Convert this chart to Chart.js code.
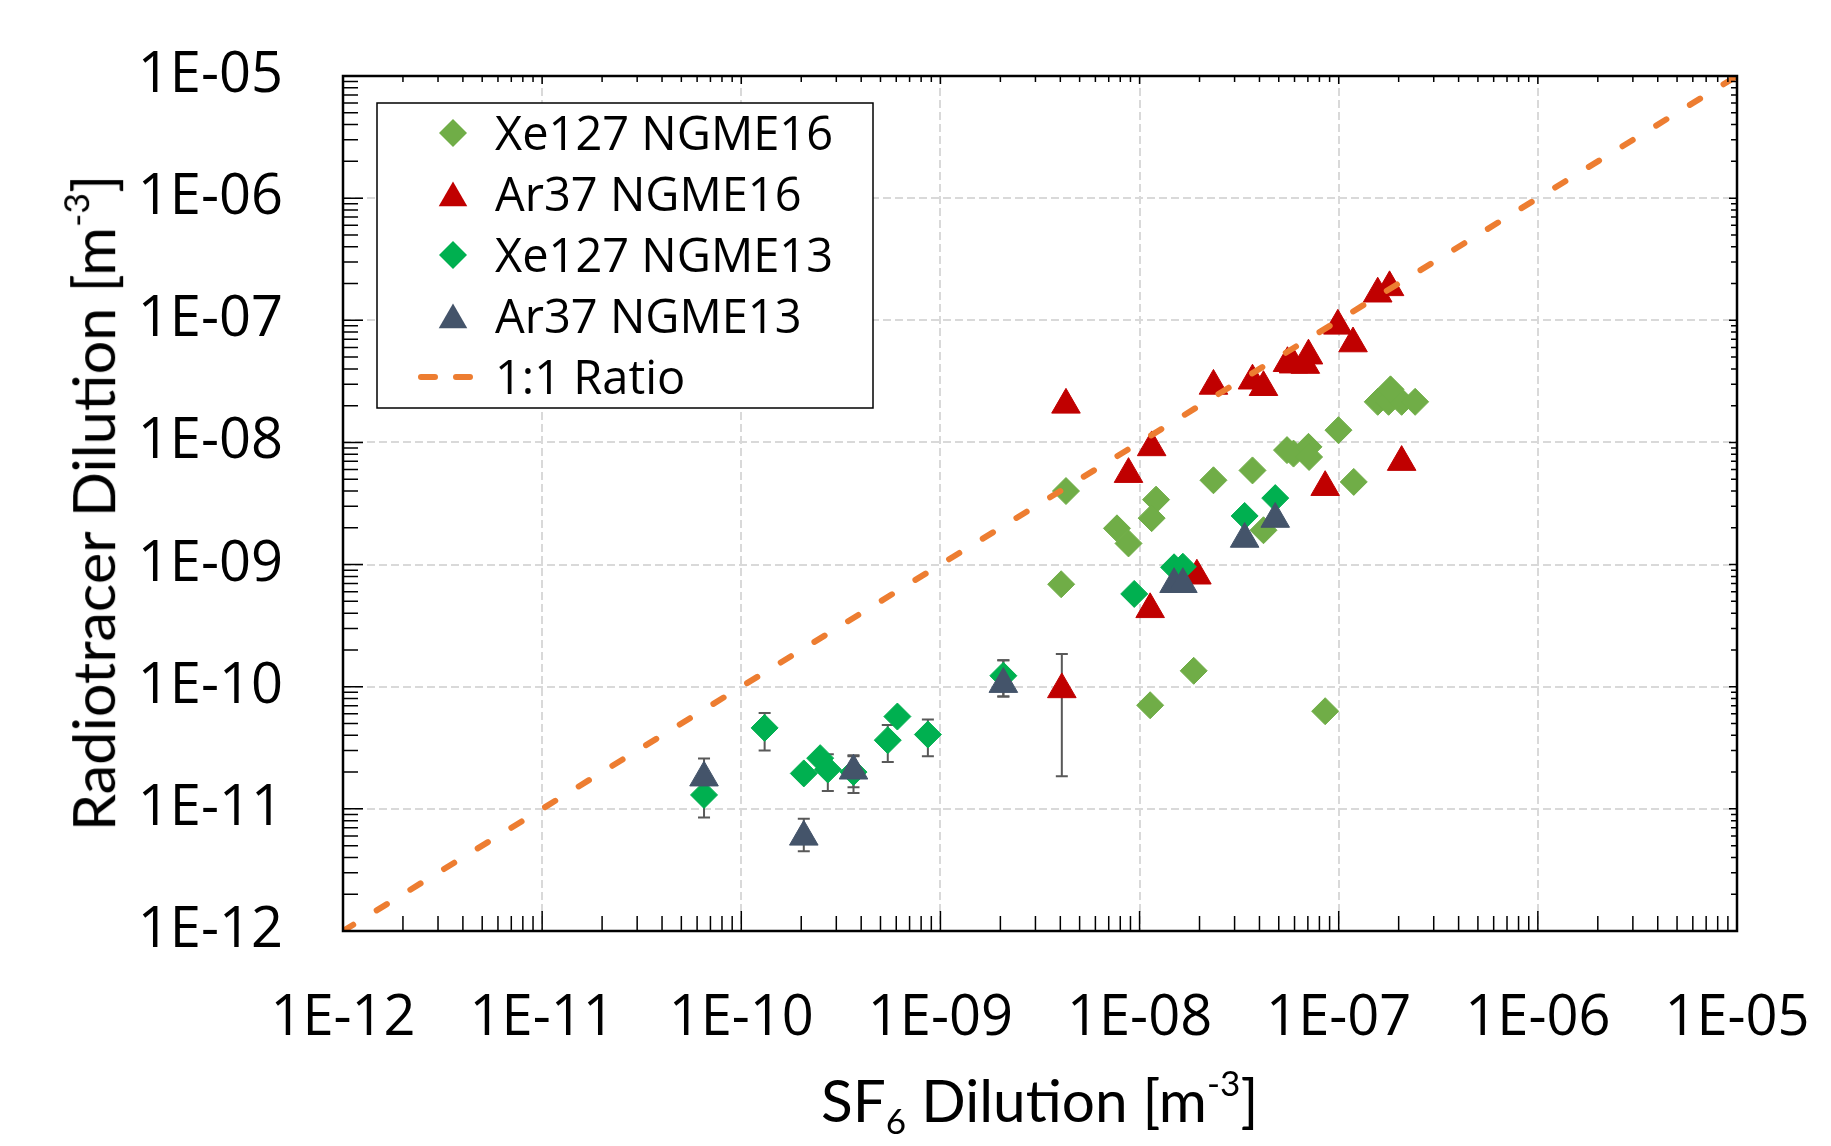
<!DOCTYPE html>
<html>
<head>
<meta charset="utf-8">
<script src="https://cdn.jsdelivr.net/npm/chart.js@4.4.0/dist/chart.umd.min.js"></script>
<style>
  html, body { margin: 0; padding: 0; background: #fff; }
  #wrap { position: relative; width: 1831px; height: 1146px; }
  canvas { display: block; }
  .atitle { position: absolute; font-family: "Liberation Sans Narrow", Lato, sans-serif; font-size: 58px; color: #000; white-space: nowrap; line-height: 1; }
  .atitle sup { font-size: 0.6em; vertical-align: 0.75em; line-height: 0; }
  .atitle sub { font-size: 0.6em; vertical-align: -0.35em; line-height: 0; }
</style>
</head>
<body>
<div id="wrap">
  <canvas id="chart" width="1831" height="1146"></canvas>
  <div id="ytitle" class="atitle">Radiotracer Dilution [m<sup>-3</sup>]</div>
  <div id="xtitle" class="atitle">SF<sub>6</sub> Dilution [m<sup>-3</sup>]</div>
</div>
<script>
// AXIS TICKS (decades)
const decadeValues = [1e-12, 1e-11, 1e-10, 1e-9, 1e-8, 1e-7, 1e-6, 1e-5];
const decadeLabels = ["1E-12", "1E-11", "1E-10", "1E-09", "1E-08", "1E-07", "1E-06", "1E-05"];

// Xe127 NGME16
const xe16X = [4.27e-9, 7.7e-9, 8.8e-9, 1.21e-8, 1.15e-8, 4.04e-9, 2.35e-8, 3.69e-8, 5.5e-8, 5.93e-8,
               7.05e-8, 7.1e-8, 9.97e-8, 1.19e-7, 4.19e-8, 1.57e-7, 1.78e-7, 2.07e-7, 2.42e-7, 1.82e-7,
               1.13e-8, 1.87e-8, 8.55e-8];
const xe16Y = [4.0e-9, 1.98e-9, 1.49e-9, 3.4e-9, 2.4e-9, 6.9e-10, 4.9e-9, 5.9e-9, 8.65e-9, 8.1e-9,
               9.2e-9, 7.6e-9, 1.26e-8, 4.75e-9, 1.91e-9, 2.15e-8, 2.15e-8, 2.15e-8, 2.15e-8, 2.72e-8,
               7.05e-11, 1.35e-10, 6.3e-11];

// Ar37 NGME16
const ar16X = [4.27e-9, 1.15e-8, 8.8e-9, 2.35e-8, 3.69e-8, 4.19e-8, 5.53e-8, 5.93e-8, 7.05e-8, 6.8e-8,
               9.9e-8, 1.18e-7, 1.57e-7, 1.8e-7, 2.07e-7, 8.55e-8, 1.94e-8, 1.13e-8, 4.07e-9];
const ar16Y = [2.03e-8, 9.1e-9, 5.5e-9, 2.9e-8, 3.2e-8, 2.83e-8, 4.45e-8, 4.33e-8, 5.13e-8, 4.3e-8,
               9.0e-8, 6.45e-8, 1.65e-7, 1.86e-7, 6.9e-9, 4.3e-9, 8.1e-10, 4.3e-10, 9.5e-11];
const ar16Lo = [null, null, null, null, null, null, null, null, null, null,
                null, null, null, null, null, null, null, null, 1.85e-11];
const ar16Hi = [null, null, null, null, null, null, null, null, null, null,
                null, null, null, null, null, null, null, null, 1.85e-10];

// Xe127 NGME13
const xe13X = [6.5e-11, 1.31e-10, 2.06e-10, 2.49e-10, 2.72e-10, 3.66e-10, 5.44e-10, 6.08e-10, 8.65e-10, 2.07e-9,
               9.4e-9, 1.49e-8, 1.65e-8, 3.37e-8, 4.8e-8];
const xe13Y = [1.3e-11, 4.6e-11, 1.95e-11, 2.6e-11, 2.1e-11, 2.0e-11, 3.65e-11, 5.7e-11, 4.06e-11, 1.23e-10,
               5.75e-10, 9.5e-10, 9.6e-10, 2.5e-9, 3.5e-9];
const xe13Lo = [8.5e-12, 3.0e-11, null, null, 1.4e-11, 1.35e-11, 2.42e-11, null, 2.7e-11, 8.3e-11,
                null, null, null, null, null];
const xe13Hi = [1.75e-11, 6.1e-11, null, null, 2.8e-11, 2.7e-11, 4.85e-11, null, 5.4e-11, 1.65e-10,
                null, null, null, null, null];

// Ar37 NGME13
const ar13X = [6.5e-11, 2.06e-10, 3.66e-10, 2.07e-9, 1.49e-8, 1.65e-8, 3.37e-8, 4.8e-8];
const ar13Y = [1.8e-11, 5.9e-12, 2.05e-11, 1.05e-10, 6.9e-10, 6.9e-10, 1.62e-9, 2.36e-9];
const ar13Lo = [1.4e-11, 4.5e-12, 1.5e-11, 8.3e-11, null, null, null, null];
const ar13Hi = [2.58e-11, 8.3e-12, 2.75e-11, 1.65e-10, null, null, null, null];

// 1:1 RATIO
const ratioX = [1e-12, 1e-5];
const ratioY = [1e-12, 1e-5];

function pts(xs, ys) {
  return xs.map((x, i) => ({ x: x, y: ys[i] }));
}

// ERROR BARS (behind markers)
const errorBars = {
  id: "errorBars",
  beforeDatasetsDraw(chart) {
    const ctx = chart.ctx, xs = chart.scales.x, ys = chart.scales.y;
    ctx.save();
    ctx.strokeStyle = "#595959";
    ctx.lineWidth = 2;
    chart.data.datasets.forEach(ds => {
      if (!ds.errLo) return;
      ds.data.forEach((p, i) => {
        const lo = ds.errLo[i], hi = ds.errHi[i];
        if (lo == null || hi == null) return;
        const px = xs.getPixelForValue(p.x);
        const y1 = ys.getPixelForValue(lo), y2 = ys.getPixelForValue(hi);
        ctx.beginPath();
        ctx.moveTo(px, y1); ctx.lineTo(px, y2);
        ctx.moveTo(px - 6, y1); ctx.lineTo(px + 6, y1);
        ctx.moveTo(px - 6, y2); ctx.lineTo(px + 6, y2);
        ctx.stroke();
      });
    });
    ctx.restore();
  }
};

// FRAME + MINOR TICKS (long inside left/bottom, short inside top/right)
const frame = {
  id: "frame",
  afterDatasetsDraw(chart) {
    const ctx = chart.ctx, a = chart.chartArea, xs = chart.scales.x, ys = chart.scales.y;
    ctx.save();
    ctx.strokeStyle = "#000";
    ctx.lineWidth = 1.5;
    ctx.beginPath();
    for (let d = -12; d < -5; d++) {
      for (let m = 1; m <= 9; m++) {
        const v = m * Math.pow(10, d);
        const len = m === 1 ? 20 : 15;
        const sh = m === 1 ? 8 : 6;
        const px = xs.getPixelForValue(v);
        ctx.moveTo(px, a.bottom); ctx.lineTo(px, a.bottom - len);
        ctx.moveTo(px, a.top); ctx.lineTo(px, a.top + sh);
        const py = ys.getPixelForValue(v);
        ctx.moveTo(a.left, py); ctx.lineTo(a.left + len, py);
        ctx.moveTo(a.right, py); ctx.lineTo(a.right - sh, py);
      }
    }
    ctx.stroke();
    ctx.lineWidth = 2.5;
    ctx.strokeRect(a.left, a.top, a.right - a.left, a.bottom - a.top);
    ctx.restore();
  }
};

// LEGEND BOX INSIDE PLOT
const boxLegend = {
  id: "boxLegend",
  afterDraw(chart) {
    const ctx = chart.ctx, a = chart.chartArea;
    const bx = a.left + 34, by = a.top + 27, bw = 496, bh = 305;
    ctx.save();
    ctx.fillStyle = "#fff";
    ctx.fillRect(bx, by, bw, bh);
    ctx.strokeStyle = "#000";
    ctx.lineWidth = 1.5;
    ctx.strokeRect(bx, by, bw, bh);
    chart.data.datasets.forEach((ds, i) => {
      const cy = by + 30 + i * 61;
      const mx = bx + 76;
      ctx.fillStyle = ds.backgroundColor;
      if (ds.showLine) {
        ctx.strokeStyle = ds.borderColor;
        ctx.lineWidth = 6;
        ctx.lineCap = "round";
        ctx.setLineDash([14, 21]);
        ctx.beginPath();
        ctx.moveTo(mx - 32, cy); ctx.lineTo(mx + 22, cy);
        ctx.stroke();
        ctx.setLineDash([]);
      } else if (ds.pointStyle === "rectRot") {
        const r = 14;
        ctx.beginPath();
        ctx.moveTo(mx, cy - r); ctx.lineTo(mx + r, cy); ctx.lineTo(mx, cy + r); ctx.lineTo(mx - r, cy);
        ctx.closePath(); ctx.fill();
      } else {
        const r = 16.5, c = cy + 4;
        ctx.beginPath();
        ctx.moveTo(mx, c - r); ctx.lineTo(mx + 0.866 * r, c + r / 2); ctx.lineTo(mx - 0.866 * r, c + r / 2);
        ctx.closePath(); ctx.fill();
      }
      ctx.fillStyle = "#000";
      ctx.font = '47px "Open Sans"';
      ctx.textBaseline = "alphabetic";
      ctx.fillText(ds.label, bx + 118, cy + 17);
    });
    ctx.restore();
  }
};

const tickFont = { family: "Open Sans", size: 56 };

function logAxis(extra) {
  return Object.assign({
    type: "logarithmic",
    min: 1e-12,
    max: 1e-5,
    afterBuildTicks: s => { s.ticks = decadeValues.map(v => ({ value: v })); },
    grid: { color: "#d9d9d9", lineWidth: 2, drawTicks: false },
    border: { display: false, dash: [8, 4] }
  }, extra);
}

function tickOpts(pad) {
  return {
    callback: (v, i) => decadeLabels[i],
    font: tickFont,
    color: "#000",
    autoSkip: false,
    maxRotation: 0,
    padding: pad
  };
}

const chart = new Chart(document.getElementById("chart"), {
  type: "scatter",
  data: {
    datasets: [
      { label: "Xe127 NGME16", data: pts(xe16X, xe16Y), pointStyle: "rectRot", pointRadius: 13.5,
        backgroundColor: "#70AD47", borderColor: "#70AD47", borderWidth: 1, order: 4 },
      { label: "Ar37 NGME16", data: pts(ar16X, ar16Y), pointStyle: "triangle", pointRadius: 16.5,
        backgroundColor: "#C00000", borderColor: "#C00000", borderWidth: 1, order: 3,
        errLo: ar16Lo, errHi: ar16Hi },
      { label: "Xe127 NGME13", data: pts(xe13X, xe13Y), pointStyle: "rectRot", pointRadius: 13.5,
        backgroundColor: "#00B050", borderColor: "#00B050", borderWidth: 1, order: 2,
        errLo: xe13Lo, errHi: xe13Hi },
      { label: "Ar37 NGME13", data: pts(ar13X, ar13Y), pointStyle: "triangle", pointRadius: 16.5,
        backgroundColor: "#44546A", borderColor: "#44546A", borderWidth: 1, order: 1,
        errLo: ar13Lo, errHi: ar13Hi },
      { label: "1:1 Ratio", data: pts(ratioX, ratioY), showLine: true, pointRadius: 0,
        borderColor: "#ED7D31", backgroundColor: "#ED7D31", borderWidth: 6,
        borderDash: [12, 27.5], borderCapStyle: "round", fill: false, order: 0 }
    ]
  },
  options: {
    responsive: false,
    animation: false,
    events: [],
    layout: { padding: { top: 76, right: 94, left: 0, bottom: 0 } },
    plugins: { legend: { display: false }, tooltip: { enabled: false } },
    scales: {
      x: logAxis({
        position: "bottom",
        ticks: tickOpts(54),
        afterFit: s => { s.height = 215; s.paddingLeft = 0; s.paddingRight = 0; }
      }),
      y: logAxis({
        position: "left",
        ticks: tickOpts(60),
        afterFit: s => { s.width = 343; s.paddingTop = 0; s.paddingBottom = 0; }
      })
    }
  },
  plugins: [errorBars, frame, boxLegend]
});

// AXIS TITLES (html, with sub/superscripts)
function placeTitle(id, cx, cy, width, rotate) {
  const el = document.getElementById(id);
  const k = width / el.offsetWidth;
  el.style.left = (cx - el.offsetWidth / 2) + "px";
  el.style.top = (cy - el.offsetHeight / 2) + "px";
  el.style.transform = (rotate ? "rotate(-90deg) " : "") + "scaleX(" + k + ")";
}
placeTitle("ytitle", 93, 503, 656, true);
placeTitle("xtitle", 1039, 1100, 437, false);
</script>
</body>
</html>
